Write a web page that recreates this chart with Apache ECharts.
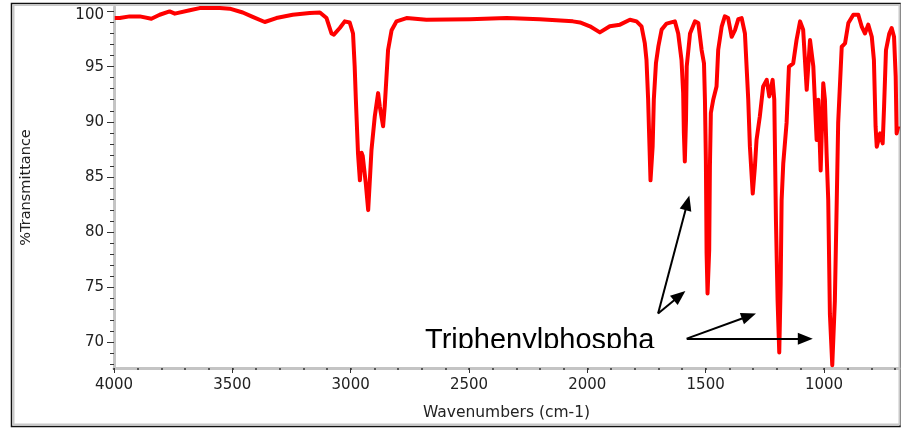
<!DOCTYPE html>
<html>
<head>
<meta charset="utf-8">
<title>IR spectrum</title>
<script src="https://cdn.jsdelivr.net/npm/echarts@6/dist/echarts.min.js"></script>
<style>
  html, body { margin: 0; padding: 0; background: #fff; }
  #chart { width: 901px; height: 429px; }
</style>
</head>
<body>
<div id="chart"></div>
<script>
// spectrum (cm-1, %T)
const wavenumbers = [
  3997, 3976, 3934, 3891, 3842, 3807, 3765, 3743, 3680, 3638, 3553, 3511, 3456, 3414, 3363, 3314,
  3245, 3173, 3130, 3102, 3081, 3071, 3046, 3025, 3004, 2990, 2983, 2978, 2969, 2961, 2954, 2949,
  2936, 2926, 2919, 2912, 2898, 2884, 2877, 2863, 2856, 2842, 2827, 2806, 2764, 2680, 2496, 2341,
  2201, 2061, 2031, 1989, 1947, 1905, 1862, 1820, 1792, 1771, 1757, 1750, 1743, 1739, 1733, 1724,
  1719, 1710, 1700, 1686, 1665, 1630, 1616, 1602, 1595, 1592, 1588, 1583, 1580, 1566, 1545, 1531,
  1517, 1507, 1503, 1499, 1496, 1492, 1485, 1482, 1478, 1468, 1454, 1447, 1432, 1419, 1405, 1390,
  1376, 1362, 1348, 1334, 1327, 1320, 1313, 1301, 1292, 1285, 1271, 1257, 1242, 1231, 1217, 1210,
  1203, 1196, 1189, 1183, 1179, 1172, 1158, 1148, 1130, 1116, 1101, 1088, 1073, 1059, 1045, 1031,
  1024, 1014, 1003, 996, 989, 982, 975, 965, 954, 946, 940, 925, 911, 897, 876, 855,
  841, 827, 813, 798, 789, 782, 777, 763, 752, 746, 738, 724, 714, 704, 697, 693, 686
];
const transmittance = [
  99.4, 99.4, 99.55, 99.55, 99.34, 99.7, 100.0, 99.8, 100.1, 100.3, 100.3, 100.25, 99.9, 99.5, 99.04, 99.4,
  99.7, 99.85, 99.9, 99.4, 98.0, 97.9, 98.5, 99.1, 99.0, 98.0, 95.0, 92.0, 87.15, 84.7, 87.2, 86.9,
  84.4, 82.0, 84.7, 87.45, 90.5, 92.6, 91.4, 89.6, 91.4, 96.5, 98.3, 99.1, 99.4, 99.25, 99.3, 99.4,
  99.3, 99.1, 99.0, 98.65, 98.1, 98.65, 98.8, 99.25, 99.1, 98.65, 97.1, 95.6, 92.0, 89.0, 84.7, 87.75,
  92.0, 95.3, 96.8, 98.35, 98.9, 99.1, 98.0, 95.6, 92.6, 89.0, 86.4, 90.2, 95.0, 98.0, 99.1, 98.95,
  96.5, 95.3, 92.0, 86.5, 78.1, 74.45, 78.4, 85.9, 90.8, 92.0, 93.2, 96.5, 98.65, 99.55, 99.4, 97.7,
  98.3, 99.3, 99.4, 98.0, 95.0, 92.0, 87.75, 83.5, 85.9, 88.35, 90.5, 93.2, 93.8, 92.3, 93.8, 92.0,
  81.1, 73.8, 69.1, 75.35, 82.9, 86.25, 89.9, 95.0, 95.3, 97.4, 99.1, 98.35, 92.9, 97.4, 95.0, 88.35,
  92.0, 85.6, 93.5, 92.0, 87.15, 82.9, 72.6, 67.95, 73.8, 82.9, 89.9, 96.8, 97.1, 98.95, 99.7, 99.7,
  98.65, 98.0, 98.8, 97.7, 95.6, 89.6, 87.75, 88.95, 88.05, 91.4, 96.5, 98.0, 98.5, 97.7, 94.1, 88.95, 89.6
];

const xMajorTicks = [4000, 3500, 3000, 2500, 2000, 1500, 1000];
const xMinorTicks = [];
for (let v = 700; v <= 4000; v += 100) xMinorTicks.push(v);
const yMajorTicks = [70, 75, 80, 85, 90, 95, 100];
const yMinorTicks = [];
for (let v = 68; v <= 100; v += 1) yMinorTicks.push(v);

// arrows of the annotation: [from wn, from %T, to wn, to %T]
const arrows = [
  [1701, 72.63, 1577, 82.66],
  [1701, 72.63, 1610, 74.25],
  [1580, 70.36, 1317, 72.41],
  [1580, 70.36, 1079, 70.36]
];
const annotationText = 'Triphenylphospha';

const font = 'DejaVu Sans';
const myChart = echarts.init(document.getElementById('chart'));

const option = {
  backgroundColor: '#ffffff',
  animation: false,
  grid: { left: 114, right: 2, top: 7, bottom: 61 },
  xAxis: [
    {
      type: 'value', position: 'bottom', inverse: true, min: 683, max: 4000,
      name: 'Wavenumbers (cm-1)', nameLocation: 'middle', nameGap: 37,
      nameTextStyle: { fontFamily: font, fontSize: 15.5, color: '#222' },
      axisLine: { show: true, lineStyle: { color: '#c4c4c4', width: 3 } },
      axisTick: { show: true, customValues: xMajorTicks, length: 5, lineStyle: { color: '#333', width: 1 } },
      axisLabel: { customValues: xMajorTicks, margin: 10, fontFamily: font, fontSize: 15, color: '#222',
                   formatter: v => String(v) },
      splitLine: { show: false }
    },
    {
      type: 'value', position: 'bottom', inverse: true, min: 683, max: 4000, z: 5,
      axisLine: { show: false },
      axisTick: { show: true, customValues: xMinorTicks, length: 2, lineStyle: { color: '#333', width: 1.5 } },
      axisLabel: { show: false },
      splitLine: { show: false }
    }
  ],
  yAxis: [
    {
      type: 'value', position: 'left', min: 67.7, max: 100.4,
      name: '%Transmittance', nameLocation: 'middle', nameGap: 80,
      nameTextStyle: { fontFamily: font, fontSize: 14.5, color: '#222' },
      axisLine: { show: true, lineStyle: { color: '#c4c4c4', width: 3 } },
      axisTick: { show: true, customValues: yMajorTicks, length: 7, lineStyle: { color: '#333', width: 1 } },
      axisLabel: {
        customValues: yMajorTicks, margin: 10, fontFamily: font, fontSize: 15, color: '#222',
        formatter: v => (v === 100 ? '{top|100}' : String(v)),
        rich: { top: { fontFamily: font, fontSize: 15, color: '#222', padding: [7, 0, 0, 0] } }
      },
      splitLine: { show: false }
    },
    {
      type: 'value', position: 'left', min: 67.7, max: 100.4,
      axisLine: { show: false },
      axisTick: { show: true, customValues: yMinorTicks, length: 4, lineStyle: { color: '#333', width: 1 } },
      axisLabel: { show: false },
      splitLine: { show: false }
    }
  ],
  series: [
    {
      name: 'spectrum',
      type: 'line',
      xAxisIndex: 0,
      yAxisIndex: 0,
      showSymbol: false,
      lineStyle: { color: '#ff0000', width: 4, join: 'round' },
      data: wavenumbers.map((w, i) => [w, transmittance[i]]),
      markLine: {
        silent: true,
        symbol: ['none', 'triangle'],
        symbolSize: [12, 15],
        label: { show: false },
        lineStyle: { color: '#000', width: 2, type: 'solid' },
        data: arrows.map(a => [{ coord: [a[0], a[1]] }, { coord: [a[2], a[3]] }])
      }
    }
  ],
  graphic: [
    // outer frame
    { type: 'rect', z: -1, silent: true, shape: { x: 11.5, y: 3.5, width: 888.5, height: 423 },
      style: { fill: null, stroke: '#111', lineWidth: 1.5 } },
    { type: 'rect', z: -1, silent: true, shape: { x: 13.5, y: 5, width: 886, height: 419.5 },
      style: { fill: null, stroke: '#c8c8c8', lineWidth: 2 } },
    // annotation label, cut at its bottom as in the figure
    { type: 'text', z: 50, silent: true, x: 425, y: 340.5,
      style: { text: annotationText, font: '29px "Liberation Sans", Arial, sans-serif', fill: '#000',
               textAlign: 'left', textVerticalAlign: 'middle' } },
    { type: 'rect', z: 60, silent: true, shape: { x: 418, y: 348, width: 245, height: 18 },
      style: { fill: '#ffffff' } }
  ]
};

myChart.setOption(option);
</script>
</body>
</html>
